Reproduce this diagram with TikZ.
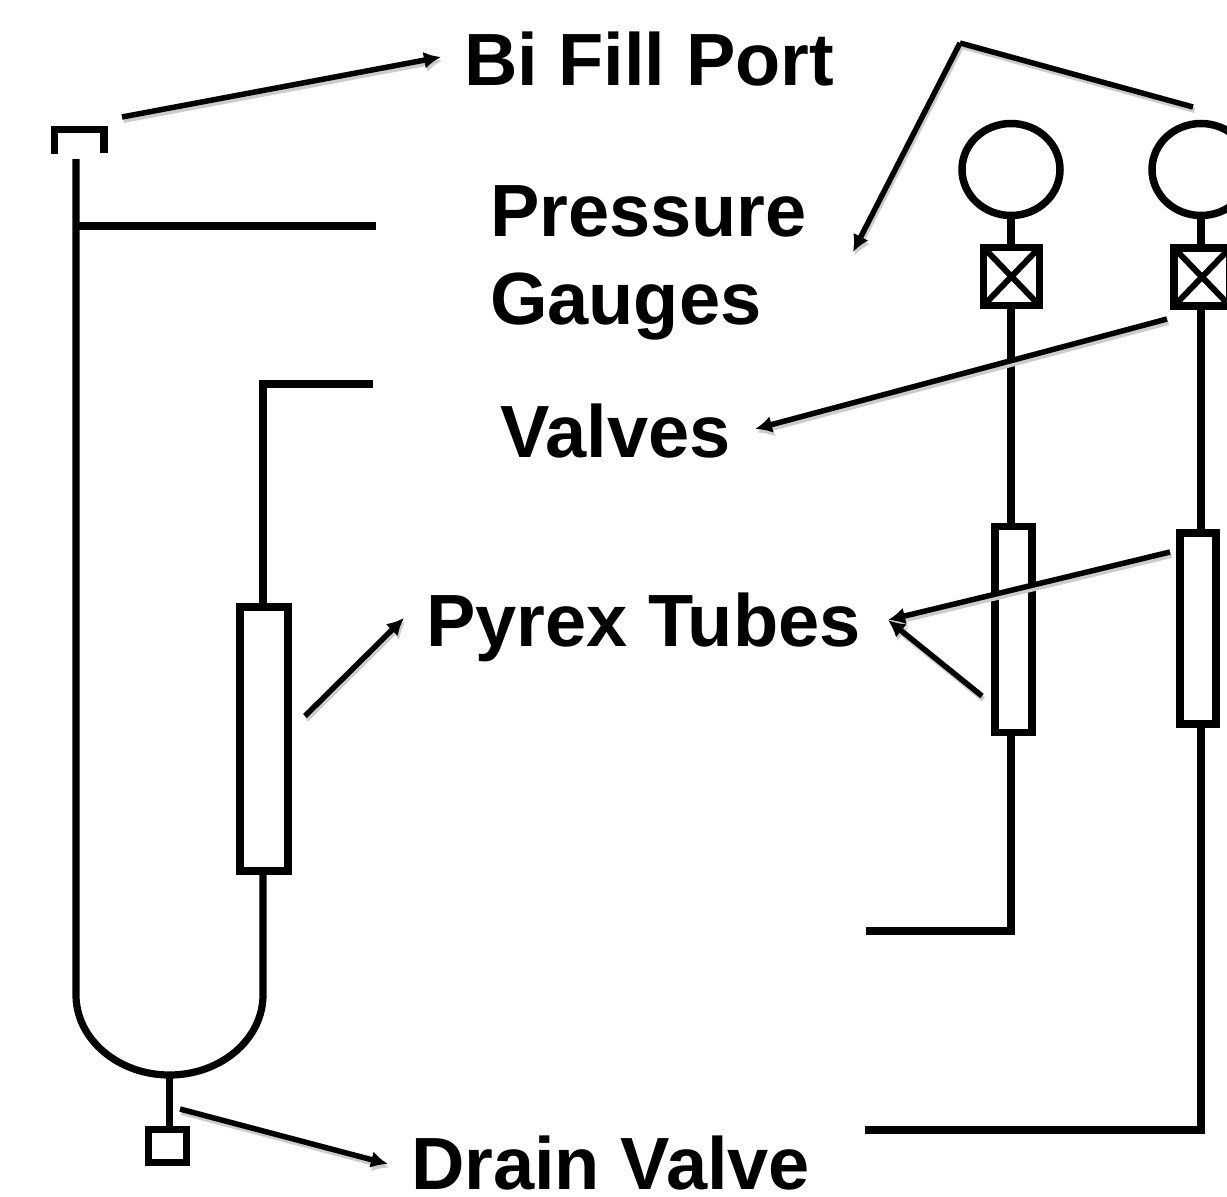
\documentclass[tikz,border=0pt]{standalone}
\usepackage{fontspec}
\setmainfont{Liberation Sans}
\usetikzlibrary{arrows.meta,shapes.geometric}
\tikzset{
  pipe/.style={line width=7.2pt,line cap=butt,line join=miter},
  part/.style={draw,fill=white,line width=7.5pt,inner sep=0pt,outer sep=0pt},
  lead/.style={line width=5.5pt,-{Latex[length=17pt,width=17pt]},
    preaction={draw=black!20,line width=5pt,transform canvas={shift={(1.5,3.5)}}}},
  leadplain/.style={line width=5.5pt,line join=miter,
    preaction={draw=black!20,line width=5pt,transform canvas={shift={(1.5,3.5)}}}},
  lbl/.style={font=\fontsize{74pt}{88pt}\selectfont\bfseries,inner sep=0pt,outer sep=0pt,anchor=base west,text=black},
}
\begin{document}
\begin{tikzpicture}[x=1pt,y=-1pt]
\useasboundingbox (0,0) rectangle (1227,1197);
\clip (0,0) rectangle (1227,1197);
% labels
\node[lbl] (fill) at (464,85) {Bi Fill Port};
\node[lbl,align=left,anchor=west] (gauges) at (490,263) {Pressure\\Gauges};
\node[lbl] (valves) at (500,457) {Valves};
\node[lbl] (pyrex) at (426,646) {Pyrex Tubes};
\node[lbl] (drain) at (411,1189) {Drain Valve};
% coordinates
\coordinate (fa) at (122,117);
\coordinate (fb) at (441,57);
\coordinate (ga) at (1193,107);
\coordinate (gb) at (960,43);
\coordinate (gc) at (853,252);
\coordinate (va) at (1167,319);
\coordinate (vb) at (755,429);
\coordinate (pa) at (1170,552);
\coordinate (pb) at (888,620);
\coordinate (pc) at (982,696);
\coordinate (pd) at (305,716);
\coordinate (pe) at (404,618);
\coordinate (da) at (180,1109);
\coordinate (db) at (388,1164);
\coordinate (l1) at (76,159);
\coordinate (l2) at (76,995);
\coordinate (l3) at (76,226);
\coordinate (l4) at (376,226);
\coordinate (r1) at (373,384);
\coordinate (r2) at (263,995);
\coordinate (bot) at (169.5,1075);
\coordinate (ea) at (866,931);
\coordinate (eb) at (865,1130);
% left vessel
\node[part,minimum width=48pt,minimum height=264pt] (tubeL) at (264,739) {};
\node[part,minimum width=38pt,minimum height=33pt] (dvalve) at (167.5,1146) {};
\draw[pipe] (l1) -- (l2) .. controls (76,1039) and (118,1075) .. (bot)
  .. controls (221,1075) and (263,1039) .. (r2) -- (r2 |- tubeL.south);
\draw[pipe] (l3) -- (l4);
\draw[pipe] (r1) -| (tubeL.north -| r2);
\draw[pipe] (bot) -- (bot |- dvalve.north);
% fill port
\coordinate (capa) at (54.5,154);
\coordinate (capb) at (54.5,129.5);
\coordinate (capc) at (104,129.5);
\coordinate (capd) at (104,153);
\draw[pipe] (capa) -- (capb) -- (capc) -- (capd);
% right branches
\node[part,ellipse,minimum width=98pt,minimum height=92pt,fill=none] (gaugeA) at (1011,169.5) {};
\node[part,ellipse,minimum width=98pt,minimum height=92pt,fill=none] (gaugeB) at (1201,169.5) {};
\node[part,minimum width=56pt,minimum height=58pt] (valveA) at (1011.5,276.5) {};
\node[part,minimum width=56pt,minimum height=58pt] (valveB) at (1202,277) {};
\node[part,minimum width=37pt,minimum height=206pt] (tubeA) at (1013.5,629.5) {};
\node[part,minimum width=36pt,minimum height=191pt] (tubeB) at (1198,628.5) {};
\foreach \v in {valveA,valveB}{
  \draw[line width=6pt] (\v.north west) -- (\v.south east);
  \draw[line width=6pt] (\v.north east) -- (\v.south west);
}
\draw[pipe] (gaugeA.south) -- (valveA.north -| gaugeA.south);
\draw[pipe] (valveA.south -| gaugeA.south) -- (tubeA.north -| gaugeA.south);
\draw[pipe] (tubeA.south -| gaugeA.south) |- (ea);
\draw[pipe] (gaugeB.south) -- (valveB.north -| gaugeB.south);
\draw[pipe] (valveB.south -| gaugeB.south) -- (tubeB.north -| gaugeB.south);
\draw[pipe] (tubeB.south -| gaugeB.south) |- (eb);
% leaders
\draw[lead] (fa) -- (fb);
\draw[leadplain] (ga) -- (gb);
\draw[lead] (gb) -- (gc);
\draw[lead] (va) -- (vb);
\draw[lead] (pa) -- (pb);
\draw[lead] (pc) -- (pb);
\draw[lead] (pd) -- (pe);
\draw[lead] (da) -- (db);
\end{tikzpicture}
\end{document}
